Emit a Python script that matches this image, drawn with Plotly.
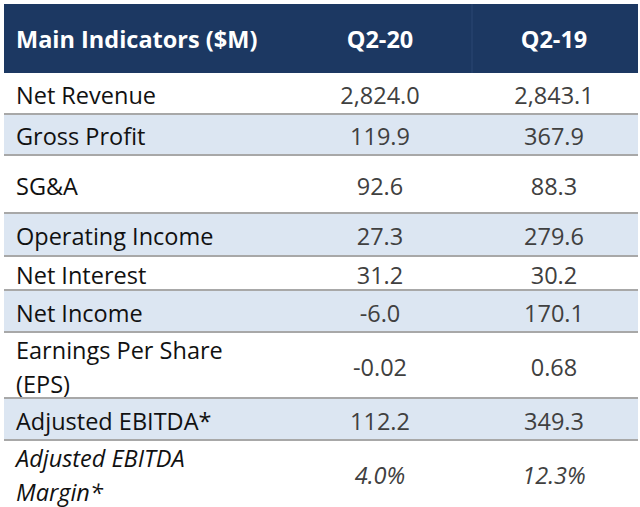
import plotly.graph_objects as go

# ---- data ----
header = ["Main Indicators ($M)", "Q2-20", "Q2-19"]
indicators = ["Net Revenue", "Gross Profit", "SG&A", "Operating Income", "Net Interest",
              "Net Income", "Earnings Per Share<br>(EPS)", "Adjusted EBITDA*",
              "<i>Adjusted EBITDA<br>Margin*</i>"]
q2_20 = [2824.0, 119.9, 92.6, 27.3, 31.2, -6.0, -0.02, 112.2, 4.0]
q2_19 = [2843.1, 367.9, 88.3, 279.6, 30.2, 170.1, 0.68, 349.3, 12.3]
formats = ["{:,.1f}"] * 6 + ["{:.2f}", "{:,.1f}", "<i>{:.1f}%</i>"]

# ---- layout (pixel geometry) ----
W, H = 640, 507
X0, X1 = 4, 638
COL_EDGES = [X0, 288, 472, X1]
HEADER_TOP, HEADER_BOTTOM = 4, 73
ROW_HEIGHTS = [41, 41, 58, 43, 34, 42, 66, 42, 67]
LINE_GAP = 34
TEXT_SHIFT = 5
HEADER_SHIFT = 4

NAVY = "#1C3862"
BLUE = "#DCE6F2"
GRID = "#A8A8A8"
FONT = "Open Sans"
FS = 23.5

col20 = [f.format(v) for f, v in zip(formats, q2_20)]
col19 = [f.format(v) for f, v in zip(formats, q2_19)]

# row boundaries
bounds = [HEADER_BOTTOM]
for h in ROW_HEIGHTS:
    bounds.append(bounds[-1] + h)

shapes = []
shapes.append(dict(type="rect", xref="x", yref="y", x0=X0, x1=X1, y0=HEADER_TOP, y1=HEADER_BOTTOM,
                   fillcolor=NAVY, line=dict(width=0), layer="below"))
shapes.append(dict(type="line", xref="x", yref="y", x0=COL_EDGES[2], x1=COL_EDGES[2],
                   y0=HEADER_TOP, y1=HEADER_BOTTOM, line=dict(color="#2A4672", width=1)))
for i in range(len(indicators)):
    fill = "white" if i % 2 == 0 else BLUE
    shapes.append(dict(type="rect", xref="x", yref="y", x0=X0, x1=X1, y0=bounds[i], y1=bounds[i + 1],
                       fillcolor=fill, line=dict(width=0), layer="below"))
for b in bounds[1:-1]:
    shapes.append(dict(type="line", xref="x", yref="y", x0=X0, x1=X1, y0=b, y1=b,
                       line=dict(color=GRID, width=2)))

fig = go.Figure()

hx = [16, 380, 554]
hy = (HEADER_TOP + HEADER_BOTTOM) / 2 + HEADER_SHIFT
fig.add_trace(go.Scatter(x=[hx[0]], y=[hy], mode="text", text=[f"<b>{header[0]}</b>"],
                         textposition="middle right",
                         textfont=dict(family=FONT, size=FS, color="white"), hoverinfo="skip"))
fig.add_trace(go.Scatter(x=hx[1:], y=[hy, hy], mode="text", text=[f"<b>{h}</b>" for h in header[1:]],
                         textposition="middle center",
                         textfont=dict(family=FONT, size=FS, color="white"), hoverinfo="skip"))


def split_lines(labels, centers):
    txt, ys = [], []
    for lab, c in zip(labels, centers):
        italic = lab.startswith("<i>")
        parts = lab.replace("<i>", "").replace("</i>", "").split("<br>")
        n = len(parts)
        for k, p in enumerate(parts):
            txt.append(f"<i>{p}</i>" if italic else p)
            ys.append(c + (k - (n - 1) / 2) * LINE_GAP)
    return txt, ys


centers = [(bounds[i] + bounds[i + 1]) / 2 + TEXT_SHIFT for i in range(len(indicators))]
lab_text, lab_y = split_lines(indicators, centers)
fig.add_trace(go.Scatter(x=[16] * len(lab_text), y=lab_y, mode="text", text=lab_text,
                         textposition="middle right",
                         textfont=dict(family=FONT, size=FS, color="#111111"), hoverinfo="skip"))
fig.add_trace(go.Scatter(x=[hx[1]] * len(col20), y=centers, mode="text", text=col20,
                         textposition="middle center",
                         textfont=dict(family=FONT, size=FS, color="#404040"), hoverinfo="skip"))
fig.add_trace(go.Scatter(x=[hx[2]] * len(col19), y=centers, mode="text", text=col19,
                         textposition="middle center",
                         textfont=dict(family=FONT, size=FS, color="#404040"), hoverinfo="skip"))

fig.update_layout(
    width=W, height=H,
    margin=dict(l=0, r=0, t=0, b=0),
    paper_bgcolor="white", plot_bgcolor="white",
    showlegend=False,
    shapes=shapes,
    xaxis=dict(range=[0, W], visible=False, fixedrange=True),
    yaxis=dict(range=[H, 0], visible=False, fixedrange=True),
)
fig.write_html("out.html", config={"displayModeBar": False},
               post_script="document.body.style.margin='0px';document.body.style.overflow='hidden';")
